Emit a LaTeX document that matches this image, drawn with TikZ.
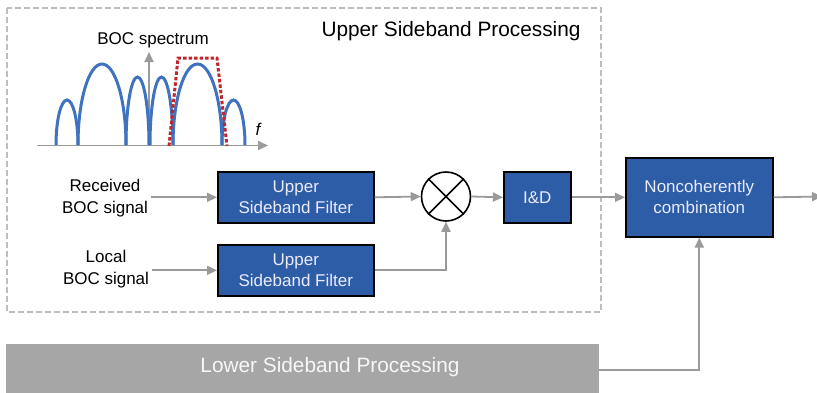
\documentclass[tikz,border=0pt]{standalone}
\usepackage{fontspec}
\setmainfont{Liberation Sans}
\usetikzlibrary{arrows.meta}
\definecolor{blockblue}{HTML}{2C5DA6}
\definecolor{lobeblue}{HTML}{3F72BF}
\definecolor{wire}{HTML}{9A9A9A}
\definecolor{boxdash}{HTML}{BDBDBD}
\definecolor{barfill}{HTML}{A6A6A6}
\definecolor{filterred}{HTML}{C0272D}
\begin{document}
\begin{tikzpicture}[x=1pt,y=-1pt,
  every node/.style={font=\fontsize{17}{21}\selectfont},
  blk/.style={draw=black, line width=1.6pt, fill=blockblue, text=white!92!blue,
    align=center, inner sep=0pt, anchor=north west},
  lbl/.style={align=center, inner sep=3pt, font=\fontsize{17}{22}\selectfont},
  conn/.style={draw=wire, line width=1.8pt, -{Triangle[length=10pt,width=9pt]}},
  lobe/.style={draw=lobeblue, line width=3pt},
]
\useasboundingbox (0,0) rectangle (817,392);

% upper sideband frame
\draw[boxdash, line width=1.2pt, dash pattern=on 6pt off 3pt] (7,8) rectangle (601,312);
\node[font=\fontsize{20.8}{24}\selectfont] (ut) at (451,31) {Upper Sideband Processing};

% lower sideband bar
\node[fill=barfill, minimum width=593pt, minimum height=50pt, inner sep=0pt,
      anchor=north west] (bar) at (6,344) {};
\node[text=white!94!gray, font=\fontsize{20.8}{24}\selectfont] (bartext) at (330,367)
      {Lower Sideband Processing};

% spectrum sketch
\draw[wire, line width=1.8pt, -{Triangle[length=10pt,width=9pt]}] (37,145.5) -- (268,145.5);
\draw[wire, line width=1.8pt, -{Triangle[length=10pt,width=9pt]}] (149,145.5) -- (149,52);
\node (spec) at (153,40) {BOC spectrum};
\node[font=\fontsize{17}{21}\selectfont\itshape] (fl) at (258,129) {f};
\begin{scope}[lobe]
  \draw (56,145) arc[start angle=180,end angle=0,x radius=11pt,y radius=45pt];
  \draw (78,145) arc[start angle=180,end angle=0,x radius=24pt,y radius=81pt];
  \draw (126,145) arc[start angle=180,end angle=0,x radius=11.5pt,y radius=68pt];
  \draw (150,145) arc[start angle=180,end angle=0,x radius=11.5pt,y radius=68pt];
  \draw (173,145) arc[start angle=180,end angle=0,x radius=24.5pt,y radius=81pt];
  \draw (222,145) arc[start angle=180,end angle=0,x radius=11.5pt,y radius=45pt];
\end{scope}
\draw[filterred, line width=3pt, dash pattern=on 3.5pt off 2pt]
  (169,146) -- (178,58) -- (217,58) -- (227,146);

% signal inputs
\node[lbl] (rx) at (105,198) {Received\\BOC signal};
\node[lbl] (lo) at (106,269) {Local\\BOC signal};

% processing blocks
\node[blk, minimum width=156pt, minimum height=51pt] (f1) at (217,171) {Upper\\Sideband Filter};
\node[blk, minimum width=156pt, minimum height=51pt] (f2) at (217,244) {Upper\\Sideband Filter};
\node[draw=black, line width=1.6pt, circle, minimum size=49pt, inner sep=0pt] (mx) at (446,196.5) {};
\draw[black, line width=1.6pt] (mx.north west) -- (mx.south east) (mx.north east) -- (mx.south west);
\node[blk, minimum width=67pt, minimum height=51pt] (id) at (503,171) {I\&D};
\node[blk, minimum width=147pt, minimum height=79pt] (nc) at (625,157) {Noncoherently\\combination};
\coordinate (out) at (822,196.5);

% connectors
\draw[conn] (rx.east |- f1.west) -- (f1.west);
\draw[conn] (lo.east |- f2.west) -- (f2.west);
\draw[conn] (f1.east) -- (mx.west);
\draw[conn] (f2.east) -| (mx.south);
\draw[conn] (mx.east) -- (id.west);
\draw[conn] (id.east) -- (nc.west |- id.east);
\draw[conn] (nc.east |- id.east) -- (out);
\draw[conn] (bar.east |- 0,370) -| (nc.south);
\end{tikzpicture}
\end{document}
